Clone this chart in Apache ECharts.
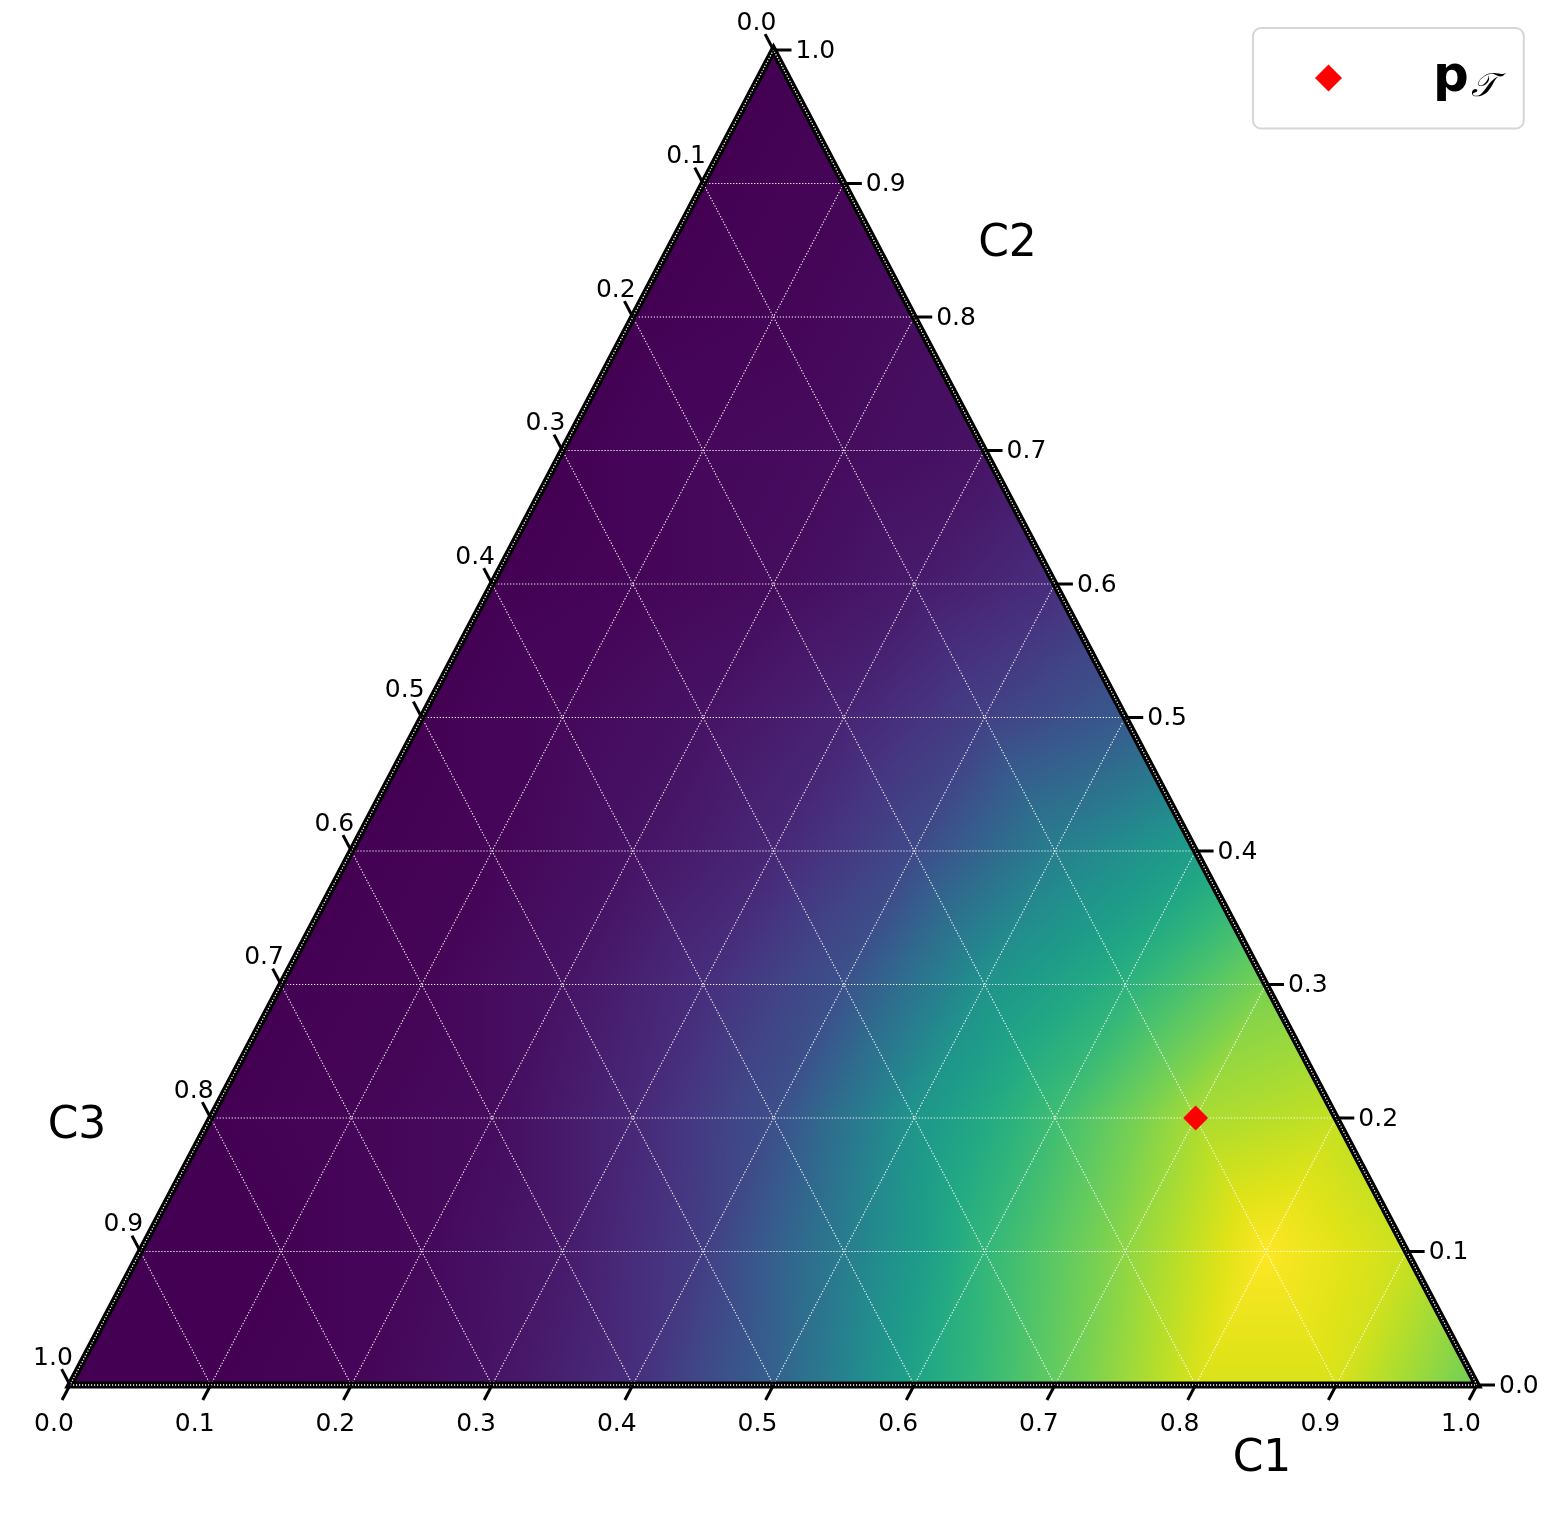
<!DOCTYPE html>
<html><head><meta charset="utf-8">
<script src="https://cdn.jsdelivr.net/npm/echarts@6/dist/echarts.min.js"></script>
<style>html,body{margin:0;padding:0;background:#fff}#main{width:1550px;height:1540px}</style>
</head><body><div id="main"></div>
<script>
// ---------- data ----------
const tickValues = [0.0, 0.1, 0.2, 0.3, 0.4, 0.5, 0.6, 0.7, 0.8, 0.9, 1.0];
const tickLabels = ['0.0','0.1','0.2','0.3','0.4','0.5','0.6','0.7','0.8','0.9','1.0'];
const axisTitles = ['C1', 'C2', 'C3'];

// heat values (0..1 of colour scale) on the 0.1 ternary lattice;
// each row is one C2 level, entries run over C1 = 0, 0.1, ... (C3 = 1 - C1 - C2)
const density_c2_00 = [0.00, 0.00, 0.01, 0.05, 0.13, 0.31, 0.58, 0.76, 0.94, 0.94, 0.78];
const density_c2_01 = [0.00, 0.00, 0.02, 0.07, 0.18, 0.42, 0.66, 0.83, 1.00, 0.92];
const density_c2_02 = [0.00, 0.01, 0.03, 0.11, 0.24, 0.52, 0.69, 0.87, 0.91];
const density_c2_03 = [0.00, 0.01, 0.05, 0.13, 0.25, 0.51, 0.64, 0.80];
const density_c2_04 = [0.00, 0.01, 0.05, 0.11, 0.22, 0.43, 0.56];
const density_c2_05 = [0.00, 0.02, 0.05, 0.10, 0.19, 0.28];
const density_c2_06 = [0.00, 0.01, 0.03, 0.07, 0.13];
const density_c2_07 = [0.00, 0.02, 0.03, 0.05];
const density_c2_08 = [0.00, 0.01, 0.03];
const density_c2_09 = [0.00, 0.01];
const density_c2_10 = [0.00];

const pointName = 'pT';
const pointC1 = [0.7];
const pointC2 = [0.2];

// ---------- helpers ----------
const densityRows = [density_c2_00, density_c2_01, density_c2_02, density_c2_03, density_c2_04,
  density_c2_05, density_c2_06, density_c2_07, density_c2_08, density_c2_09, density_c2_10];
const N = densityRows.length - 1;

const VIRIDIS = ['#440154','#471365','#482475','#463480','#414487','#3b528b','#355f8d','#2f6c8e',
  '#2a788e','#25848e','#21918c','#1e9c89','#22a884','#2fb47c','#44bf70','#5ec962','#7ad151',
  '#9bd93c','#bddf26','#dfe318','#fde725'];
function hexRgb(h){ return [parseInt(h.slice(1,3),16), parseInt(h.slice(3,5),16), parseInt(h.slice(5,7),16)]; }
const VRGB = VIRIDIS.map(hexRgb);
const K = VIRIDIS.length - 1;
function colorAt(v){
  v = Math.max(0, Math.min(1, v));
  const f = v * K; let i = Math.floor(f); if (i >= K) i = K - 1;
  const t = f - i, a = VRGB[i], b = VRGB[i+1];
  return 'rgb(' + [0,1,2].map(k => Math.round(a[k] + (b[k]-a[k])*t)).join(',') + ')';
}
function gradientFor(pts, vals){
  const vmin = Math.min(...vals), vmax = Math.max(...vals);
  if (vmax - vmin < 1e-6) return colorAt(vmin);
  const [p0,p1,p2] = pts;
  const e1x = p1[0]-p0[0], e1y = p1[1]-p0[1], e2x = p2[0]-p0[0], e2y = p2[1]-p0[1];
  const d1 = vals[1]-vals[0], d2 = vals[2]-vals[0];
  const det = e1x*e2y - e1y*e2x;
  const gx = (d1*e2y - d2*e1y)/det, gy = (d2*e1x - d1*e2x)/det;
  const g2 = gx*gx + gy*gy;
  const S = pts[vals.indexOf(vmin)];
  const k = (vmax - vmin)/g2;
  const stops = [{offset:0, color: colorAt(vmin)}];
  for (let j = 1; j < K; j++){
    const kv = j / K;
    if (kv > vmin && kv < vmax) stops.push({offset:(kv - vmin)/(vmax - vmin), color: VIRIDIS[j]});
  }
  stops.push({offset:1, color: colorAt(vmax)});
  return {type:'linear', x:S[0], y:S[1], x2:S[0]+gx*k, y2:S[1]+gy*k, colorStops:stops, global:true};
}
function tern(c1, c2){ return [c1 + c2/2, c2]; }

// triangle cells of the lattice: [a, b, up]
const cells = [];
for (let b = 0; b < N; b++){
  for (let a = 0; a + b <= N - 1; a++){
    cells.push([a, b, 1]);
    if (a + b <= N - 2) cells.push([a, b, 0]);
  }
}

const chart = echarts.init(document.getElementById('main'), null, {renderer:'canvas'});
const FONT = 'DejaVu Sans';

function renderCell(params, api){
  const a = api.value(0), b = api.value(1), up = api.value(2);
  const verts = up ? [[a,b],[a+1,b],[a,b+1]] : [[a+1,b],[a,b+1],[a+1,b+1]];
  const pts = verts.map(([p,q]) => api.coord(tern(p/N, q/N)));
  const vals = verts.map(([p,q]) => densityRows[q][p]);
  const fill = gradientFor(pts, vals);
  return {type:'polygon', shape:{points:pts}, style:{fill:fill, stroke:fill, lineWidth:1}};
}

function renderFrame(params, api){
  const P = (c1, c2) => api.coord(tern(c1, c2));
  const ch = [];
  const gridStyle = {stroke:'rgba(255,255,255,1)', lineWidth:1.1, lineDash:[1.2,1.8]};
  for (let i = 1; i < tickValues.length - 1; i++){
    const v = tickValues[i];
    [[P(v,0), P(v,1-v)], [P(0,v), P(1-v,v)], [P(1-v,0), P(0,1-v)]].forEach(([s,e]) => {
      ch.push({type:'line', shape:{x1:s[0],y1:s[1],x2:e[0],y2:e[1]}, style:gridStyle});
    });
  }
  const A = P(0,0), B = P(1,0), C = P(0,1);
  ch.push({type:'polygon', shape:{points:[A,B,C]}, style:{fill:null, stroke:'#000', lineWidth:7, lineJoin:'miter'}});
  ch.push({type:'polygon', shape:{points:[A,B,C]}, style:{fill:null, stroke:'#fff', lineWidth:1.3, lineDash:[1.2,1.8]}});
  // tick directions
  const unit = (p, q) => { const dx = q[0]-p[0], dy = q[1]-p[1], l = Math.hypot(dx,dy); return [dx/l, dy/l]; };
  const dBottom = unit(C, A), dLeft = unit(B, C);
  const tickStyle = {stroke:'#000', lineWidth:3};
  const txt = (x, y, s, align) => ({type:'text', x:x, y:y, style:{text:s, fill:'#000', font:'25px "' + FONT + '"', align:align, verticalAlign:'middle'}});
  tickValues.forEach((v, i) => {
    // bottom axis (C1)
    let p = P(v, 0);
    ch.push({type:'line', shape:{x1:p[0], y1:p[1], x2:p[0]+dBottom[0]*17, y2:p[1]+dBottom[1]*17}, style:tickStyle});
    ch.push(txt(p[0]-16, p[1]+39, tickLabels[i], 'center'));
    // right axis (C2)
    p = P(1-v, v);
    ch.push({type:'line', shape:{x1:p[0], y1:p[1], x2:p[0]+18, y2:p[1]}, style:tickStyle});
    ch.push(txt(p[0]+22, p[1]+1, tickLabels[i], 'left'));
    // left axis (C3)
    p = P(0, 1-v);
    ch.push({type:'line', shape:{x1:p[0], y1:p[1], x2:p[0]+dLeft[0]*18, y2:p[1]+dLeft[1]*18}, style:tickStyle});
    ch.push(txt(p[0]-17, p[1]-27, tickLabels[i], 'center'));
  });
  const ttl = (x, y, s) => ({type:'text', x:x, y:y, style:{text:s, fill:'#000', font:'44px "' + FONT + '"', align:'center', verticalAlign:'middle'}});
  ch.push(ttl(B[0]-215, B[1]+75, axisTitles[0]));
  ch.push(ttl(C[0]+234, C[1]+195, axisTitles[1]));
  ch.push(ttl(A[0]+7, A[1]-258, axisTitles[2]));
  return {type:'group', children:ch};
}

chart.setOption({
  animation:false,
  backgroundColor:'#fff',
  grid:{left:70, right:73, top:50, bottom:155},
  xAxis:{type:'value', min:0, max:1, show:false},
  yAxis:{type:'value', min:0, max:1, show:false},
  legend:{
    left:1253, top:28, orient:'vertical', selectedMode:false,
    padding:[25,28,25,62], itemWidth:27, itemHeight:27,
    borderColor:'#d6d6d6', borderWidth:2, borderRadius:8, backgroundColor:'rgba(255,255,255,0.8)',
    data:[{name:pointName, icon:'diamond', itemStyle:{color:'#ff0000', opacity:1}}],
    formatter: () => '{g|}{b|p}{s|𝒯}',
    textStyle:{
      rich:{
        g:{width:86},
        b:{fontSize:50, fontWeight:'bold', fontFamily:FONT, color:'#000', lineHeight:56},
        s:{fontSize:33, fontStyle:'italic', fontFamily:'DejaVu Serif', color:'#000', padding:[18,0,0,2]}
      }
    }
  },
  series:[
    {type:'custom', name:'heat', z:1, silent:true, renderItem:renderCell, data:cells, encode:{x:0, y:1}},
    {type:'custom', name:'frame', z:2, silent:true, renderItem:renderFrame, data:[[0,0]]},
    {type:'scatter', name:pointName, z:3, symbol:'diamond', symbolSize:25, itemStyle:{color:'#ff0000', opacity:1},
      data: pointC1.map((c1, i) => tern(c1, pointC2[i]))}
  ]
});
</script></body></html>
